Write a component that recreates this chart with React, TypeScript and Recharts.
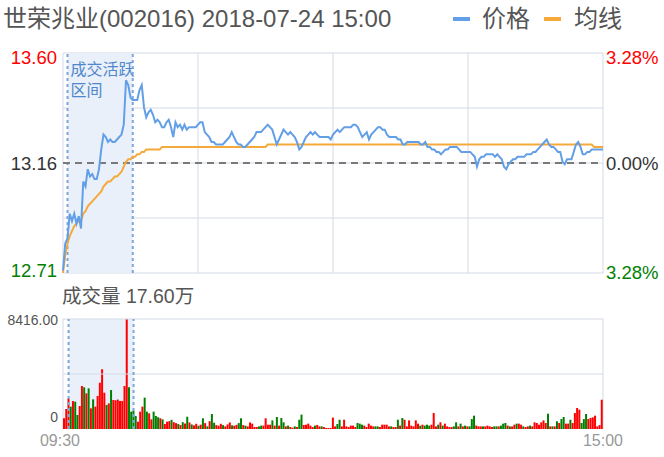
import React from "react";
import {
  ComposedChart,
  Line,
  XAxis,
  YAxis,
  CartesianGrid,
  ReferenceLine,
  ReferenceArea,
  BarChart,
  Bar,
  Cell,
} from "recharts";

const FONT = '"Liberation Sans", Arial, "Noto Sans CJK SC", sans-serif';

// ---------------- data ----------------
const title = "世荣兆业(002016) 2018-07-24 15:00";
const priceName = "价格";
const avgName = "均线";
const volumeTitle = "成交量 17.60万";
const timeLabels = ["09:30", "15:00"];
const timeTicks = [0, 60, 120, 180, 240];

const prevClose = 13.155;
const priceTicks = [12.71, 12.9325, 13.155, 13.3775, 13.6];
const priceTickLabels = ["12.71", "", "13.16", "", "13.60"];
const pctTickLabels = ["3.28%", "", "0.00%", "", "3.28%"];

const volumeTicks = [0, 4208, 8416];
const volumeTickLabels = ["0", "", "8416.00"];

const zoneStart = 2;
const zoneEnd = 31;
const zoneLabel = ["成交活跃", "区间"];

const prices = [
  12.72, 12.83, 12.85, 12.95, 12.92, 12.95, 12.91, 12.94, 12.89, 13.08,
  13.06, 13.13, 13.10, 13.11, 13.09, 13.09, 13.13, 13.21, 13.27, 13.26,
  13.24, 13.25, 13.24, 13.24, 13.25, 13.26, 13.27, 13.31, 13.49, 13.47,
  13.42, 13.41, 13.41, 13.41, 13.45, 13.47, 13.38, 13.34, 13.36, 13.37,
  13.35, 13.32, 13.33, 13.32, 13.30, 13.30, 13.32, 13.33, 13.30, 13.26,
  13.32, 13.30, 13.31, 13.29, 13.31, 13.29, 13.30, 13.30, 13.30, 13.30,
  13.31, 13.32, 13.32, 13.28, 13.27, 13.26, 13.24, 13.24, 13.23, 13.23,
  13.23, 13.23, 13.24, 13.25, 13.26, 13.28, 13.26, 13.24, 13.23, 13.23,
  13.22, 13.22, 13.23, 13.24, 13.25, 13.26, 13.28, 13.28, 13.28, 13.29,
  13.30, 13.31, 13.30, 13.29, 13.26, 13.23, 13.25, 13.27, 13.29, 13.28,
  13.27, 13.28, 13.27, 13.26, 13.24, 13.21, 13.22, 13.24, 13.26, 13.27,
  13.28, 13.27, 13.28, 13.27, 13.26, 13.26, 13.26, 13.26, 13.26, 13.25,
  13.27, 13.28, 13.29, 13.28, 13.29, 13.30, 13.30, 13.30, 13.30, 13.31,
  13.31, 13.30, 13.28, 13.26, 13.27, 13.28, 13.25, 13.27, 13.28, 13.29,
  13.30, 13.30, 13.29, 13.29, 13.27, 13.26, 13.26, 13.26, 13.26, 13.25,
  13.25, 13.23, 13.23, 13.24, 13.24, 13.24, 13.24, 13.24, 13.24, 13.23,
  13.23, 13.24, 13.22, 13.22, 13.21, 13.21, 13.20, 13.20, 13.19, 13.20,
  13.21, 13.21, 13.22, 13.22, 13.22, 13.22, 13.21, 13.20, 13.20, 13.20,
  13.20, 13.20, 13.19, 13.18, 13.14, 13.17, 13.18, 13.18, 13.19, 13.19,
  13.19, 13.19, 13.18, 13.19, 13.18, 13.17, 13.14, 13.13, 13.15, 13.16,
  13.17, 13.17, 13.18, 13.18, 13.18, 13.18, 13.19, 13.19, 13.19, 13.20,
  13.20, 13.21, 13.22, 13.23, 13.24, 13.25, 13.23, 13.22, 13.22, 13.21,
  13.20, 13.20, 13.16, 13.15, 13.17, 13.17, 13.17, 13.20, 13.23, 13.24,
  13.22, 13.19, 13.19, 13.20, 13.20, 13.21, 13.21, 13.21, 13.21, 13.21,
  13.21,
];

const averages = [
  12.71, 12.78, 12.83, 12.86, 12.88, 12.90, 12.91, 12.92, 12.92, 12.95,
  12.96, 12.98, 12.99, 13.00, 13.01, 13.02, 13.03, 13.04, 13.06, 13.07,
  13.08, 13.08, 13.09, 13.10, 13.10, 13.11, 13.12, 13.14, 13.16, 13.17,
  13.17, 13.18, 13.18, 13.19, 13.19, 13.20, 13.20, 13.21, 13.21, 13.21,
  13.21, 13.21, 13.21, 13.21, 13.22, 13.22, 13.22, 13.22, 13.22, 13.22,
  13.22, 13.22, 13.22, 13.22, 13.22, 13.22, 13.22, 13.22, 13.22, 13.22,
  13.22, 13.22, 13.22, 13.22, 13.22, 13.22, 13.22, 13.22, 13.22, 13.22,
  13.22, 13.22, 13.22, 13.22, 13.22, 13.22, 13.22, 13.22, 13.22, 13.22,
  13.22, 13.22, 13.22, 13.22, 13.22, 13.22, 13.22, 13.22, 13.22, 13.22,
  13.22, 13.23, 13.23, 13.23, 13.23, 13.23, 13.23, 13.23, 13.23, 13.23,
  13.23, 13.23, 13.23, 13.23, 13.23, 13.23, 13.23, 13.23, 13.23, 13.23,
  13.23, 13.23, 13.23, 13.23, 13.23, 13.23, 13.23, 13.23, 13.23, 13.23,
  13.23, 13.23, 13.23, 13.23, 13.23, 13.23, 13.23, 13.23, 13.23, 13.23,
  13.23, 13.23, 13.23, 13.23, 13.23, 13.23, 13.23, 13.23, 13.23, 13.23,
  13.23, 13.23, 13.23, 13.23, 13.23, 13.23, 13.23, 13.23, 13.23, 13.23,
  13.23, 13.23, 13.23, 13.23, 13.23, 13.23, 13.23, 13.23, 13.23, 13.23,
  13.23, 13.23, 13.23, 13.23, 13.23, 13.23, 13.23, 13.23, 13.23, 13.23,
  13.23, 13.23, 13.23, 13.23, 13.23, 13.23, 13.23, 13.23, 13.23, 13.23,
  13.23, 13.23, 13.23, 13.23, 13.23, 13.23, 13.23, 13.23, 13.23, 13.23,
  13.23, 13.23, 13.23, 13.23, 13.23, 13.23, 13.23, 13.23, 13.23, 13.23,
  13.23, 13.23, 13.23, 13.23, 13.23, 13.23, 13.23, 13.23, 13.23, 13.23,
  13.23, 13.23, 13.23, 13.23, 13.23, 13.23, 13.23, 13.23, 13.23, 13.23,
  13.23, 13.23, 13.23, 13.23, 13.23, 13.23, 13.23, 13.23, 13.23, 13.23,
  13.23, 13.23, 13.23, 13.23, 13.23, 13.23, 13.22, 13.22, 13.22, 13.22,
  13.22,
];

const volumes = [
  820, 1530, 2350, 1710, 2140, 2090, 1070, 1760, 3290, 3190,
  2730, 3110, 1580, 2270, 1710, 2530, 3540, 4570, 2780, 1840,
  1960, 2980, 2220, 2200, 2250, 2150, 2150, 3290, 8416, 3190,
  1330, 1400, 1000, 560, 1330, 1710, 2400, 1330, 1200, 740,
  1330, 1000, 900, 820, 740, 380, 560, 600, 700, 520,
  450, 380, 300, 520, 420, 940, 500, 350, 280, 400,
  250, 330, 820, 450, 200, 600, 1150, 480, 300, 250,
  400, 300, 200, 350, 500, 280, 250, 320, 450, 820,
  300, 250, 200, 500, 410, 150, 150, 200, 260, 260,
  820, 330, 330, 660, 260, 920, 260, 840, 510, 200,
  260, 150, 100, 200, 150, 710, 1100, 310, 330, 410,
  260, 150, 260, 310, 200, 200, 150, 80, 80, 80,
  870, 200, 380, 710, 200, 710, 200, 150, 260, 260,
  150, 460, 410, 330, 260, 150, 410, 260, 200, 200,
  200, 150, 330, 330, 330, 200, 200, 150, 150, 710,
  260, 840, 710, 200, 660, 260, 200, 660, 410, 260,
  330, 260, 330, 260, 330, 1220, 200, 330, 510, 260,
  410, 200, 150, 150, 200, 510, 200, 410, 200, 260,
  200, 200, 760, 1020, 260, 200, 200, 200, 200, 260,
  200, 150, 200, 200, 200, 260, 410, 460, 260, 200,
  200, 330, 410, 410, 330, 200, 150, 200, 260, 200,
  510, 460, 330, 510, 660, 460, 1170, 200, 200, 200,
  590, 460, 760, 920, 410, 410, 710, 460, 1220, 1610,
  1480, 460, 760, 1150, 760, 840, 890, 1020, 200, 300,
  2240,
];

// r = up (red), g = down (green)
const volumeDirRows = [
  "rrrgrggrrg", "rgrgrrrrrg", "rgrrrrrrrg", "gggrrrggrr", "gggrgrrrgr",
  "rgrgrgrgrr", "grgrgrggrr", "rgrrrgrrgg", "rgrrrrrggr", "rrrgrgrggr",
  "grrgrggrrr", "rrgrrgrrrr", "rrggrrrrrr", "rgggrrrrrg", "grrrrrgrrg",
  "rgrrrrrrrg", "rgggrrrgrg", "rrrrggrgrg", "rgggrrrgrr", "rrggrgggrg",
  "rrgrrgrrgr", "rrrrrrgrgr", "grggrrgrrr", "rgggrrrrrr", "r",
];
const volumeDir = volumeDirRows.join("").split("");

// ---------------- styles ----------------
const UP = "#ff0000";
const DOWN = "#008000";
const FLAT = "#333333";
const TEXT = "#555555";
const GRID = "#d3dbe6";
const PRICE_COLOR = "#629fe7";
const AVG_COLOR = "#f6a93b";
const ZONE_FILL = "#e9f0f9";
const ZONE_EDGE = "#7fa6da";

const priceData = prices.map((p, i) => ({ i, price: p, avg: averages[i] }));
const volumeData = volumes.map((v, i) => ({ i, vol: v, dir: volumeDir[i] }));

const tickColor = (idx: number, n: number) =>
  idx === 0 ? DOWN : idx === n - 1 ? UP : FLAT;

const PriceTick = (props: any) => {
  const { x, y, payload } = props;
  const idx = priceTicks.indexOf(payload.value);
  const label = priceTickLabels[idx];
  if (!label) return <g />;
  const n = priceTicks.length;
  const shift = idx === 0 ? -3 : idx === n - 1 ? 4 : 0;
  return (
    <text x={x} y={y + shift} dy="0.36em" textAnchor="end" fill={tickColor(idx, n)}
      fontSize={18.5} fontFamily={FONT}>
      {label}
    </text>
  );
};

const PctTick = (props: any) => {
  const { x, y, payload } = props;
  const idx = priceTicks.indexOf(payload.value);
  const label = pctTickLabels[idx];
  if (!label) return <g />;
  const n = priceTicks.length;
  const shift = idx === 0 ? -1 : idx === n - 1 ? 4 : 0;
  return (
    <text x={x} y={y + shift} dy="0.36em" textAnchor="start" fill={tickColor(idx, n)}
      fontSize={18.5} fontFamily={FONT}>
      {label}
    </text>
  );
};

const VolTick = (props: any) => {
  const { x, y, payload } = props;
  const idx = volumeTicks.indexOf(payload.value);
  const label = volumeTickLabels[idx];
  if (!label) return <g />;
  const shift = idx === 0 ? -12 : 1;
  return (
    <text x={x} y={y + shift} dy="0.36em" textAnchor="end" fill={TEXT}
      fontSize={14} fontFamily={FONT}>
      {label}
    </text>
  );
};

const TimeTick = (props: any) => {
  const { x, y, index } = props;
  const label = timeLabels[index];
  if (!label) return <g />;
  return (
    <text x={x + (index === 0 ? -3 : 0)} y={y + 17} textAnchor="middle" fill="#999999"
      fontSize={16} fontFamily={FONT}>
      {label}
    </text>
  );
};

const ZoneLabel = (props: any) => {
  const { viewBox } = props;
  if (!viewBox) return null;
  const x = viewBox.x + 3;
  const y = viewBox.y + 22;
  return (
    <text x={x} y={y} fill="#4f87cc" fontSize={16} fontFamily={FONT}>
      <tspan x={x} dy={0}>{zoneLabel[0]}</tspan>
      <tspan x={x} dy={21}>{zoneLabel[1]}</tspan>
    </text>
  );
};

const legendItems = [
  { name: priceName, color: PRICE_COLOR },
  { name: avgName, color: AVG_COLOR },
];

export default function App() {
  return (
    <div
      style={{
        position: "absolute",
        left: 0,
        top: 0,
        width: 664,
        height: 457,
        background: "#ffffff",
        overflow: "hidden",
      }}
    >
      <div style={{ position: "absolute", left: 0, top: 0 }}>
        <ComposedChart width={664} height={285} data={priceData}
          margin={{ top: 53, right: 0, bottom: 12, left: 0 }}>
          <CartesianGrid yAxisId="left" stroke={GRID} strokeWidth={1} />
          <XAxis dataKey="i" type="number" domain={[0, 240]} ticks={timeTicks} hide />
          <YAxis yAxisId="left" width={63} domain={[priceTicks[0], priceTicks[4]]}
            ticks={priceTicks} interval={0} axisLine={false} tickLine={false}
            tickSize={0} tickMargin={6} tick={<PriceTick />} allowDataOverflow />
          <YAxis yAxisId="right" orientation="right" width={61}
            domain={[priceTicks[0], priceTicks[4]]} ticks={priceTicks} interval={0}
            axisLine={false} tickLine={false} tickSize={0} tickMargin={3}
            tick={<PctTick />} allowDataOverflow />
          <ReferenceArea yAxisId="left" x1={zoneStart} x2={zoneEnd} fill={ZONE_FILL}
            fillOpacity={1} stroke="none" label={<ZoneLabel />} />
          <ReferenceLine yAxisId="left" x={zoneStart} stroke={ZONE_EDGE}
            strokeDasharray="3 3" strokeWidth={2} />
          <ReferenceLine yAxisId="left" x={zoneEnd} stroke={ZONE_EDGE}
            strokeDasharray="3 3" strokeWidth={2} />
          <ReferenceLine yAxisId="left" y={prevClose} stroke="#7a7a7a"
            strokeDasharray="7 5" strokeWidth={2} />
          <Line yAxisId="left" type="linear" dataKey="avg" name={avgName}
            stroke={AVG_COLOR} strokeWidth={2} dot={false} isAnimationActive={false} />
          <Line yAxisId="left" type="linear" dataKey="price" name={priceName}
            stroke={PRICE_COLOR} strokeWidth={2} dot={false} isAnimationActive={false} />
        </ComposedChart>
      </div>

      <div style={{ position: "absolute", left: 0, top: 290 }}>
        <BarChart width={664} height={167} data={volumeData}
          margin={{ top: 29, right: 61, bottom: 0, left: 0 }}>
          <CartesianGrid stroke={GRID} horizontal={false} />
          <XAxis dataKey="i" type="number" domain={[-0.5, 240.5]} ticks={[-0.5, 240.5]}
            interval={0} height={28} axisLine={false} tickLine={false} tickSize={0}
            tickMargin={0} tick={<TimeTick />} allowDataOverflow />
          <YAxis width={63} domain={[0, volumeTicks[2]]} ticks={volumeTicks} interval={0}
            axisLine={false} tickLine={false} tickSize={0} tickMargin={5}
            tick={<VolTick />} allowDataOverflow />
          <ReferenceArea x1={zoneStart} x2={zoneEnd} fill={ZONE_FILL} fillOpacity={1}
            stroke="none" />
          <ReferenceLine y={volumeTicks[1]} stroke={GRID} strokeWidth={1} />
          <ReferenceLine y={volumeTicks[2]} stroke={GRID} strokeWidth={1} />
          <ReferenceLine x={zoneStart} stroke={ZONE_EDGE} strokeDasharray="3 3"
            strokeWidth={2} />
          <ReferenceLine x={zoneEnd} stroke={ZONE_EDGE} strokeDasharray="3 3"
            strokeWidth={2} />
          <Bar dataKey="vol" barSize={2} isAnimationActive={false}>
            {volumeData.map((d) => (
              <Cell key={d.i} fill={d.dir === "r" ? UP : DOWN} />
            ))}
          </Bar>
        </BarChart>
      </div>

      <svg width={664} height={457}
        style={{ position: "absolute", left: 0, top: 0, pointerEvents: "none" }}>
        <text x={3} y={27} fontSize={24} fill={TEXT} fontFamily={FONT}>{title}</text>
        {legendItems.map((it, k) => (
          <g key={it.name}>
            <rect x={453 + k * 91} y={17} width={17} height={4} fill={it.color} />
            <text x={482 + k * 92} y={27} fontSize={24} fill={TEXT} fontFamily={FONT}>
              {it.name}
            </text>
          </g>
        ))}
        <text x={62} y={303} fontSize={19.5} fill={TEXT} fontFamily={FONT}>{volumeTitle}</text>
      </svg>
    </div>
  );
}
